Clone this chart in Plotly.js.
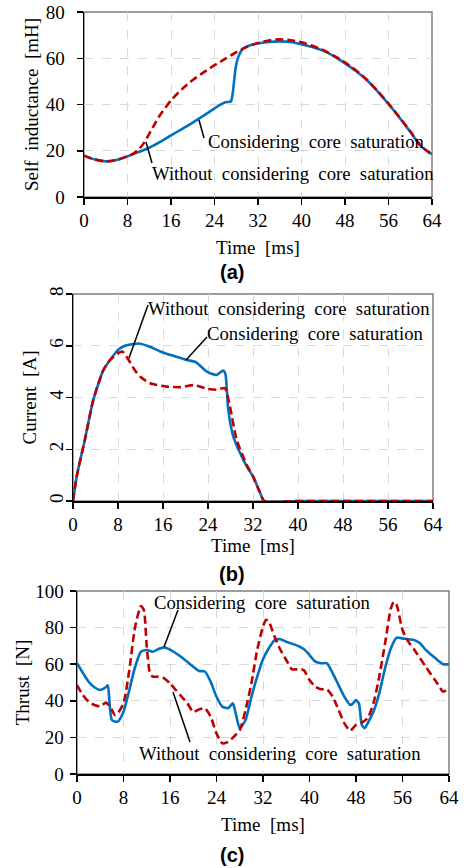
<!DOCTYPE html>
<html><head><meta charset="utf-8">
<script src="https://cdn.plot.ly/plotly-3.0.1.min.js"></script>
<style>html,body{margin:0;padding:0;background:#fff}</style>
</head><body><div id="chart" style="width:468px;height:868px"></div>
<script>
// ---------- data ----------
const timeTicks = [0, 8, 16, 24, 32, 40, 48, 56, 64];
const seriesNames = ["Considering core saturation", "Without considering core saturation"];

// (a) self inductance [mH]
const tA_sat = [0,2,4,6,8,10,12,14,16,18,20,22,24,25,26,27,27.3,27.6,27.9,28.4,29.3,31,32,34,36,38,40,42,44,46,48,50,52,54,56,58,60,62,64];
const L_sat  = [17.9,16.2,15.4,16.0,17.6,19.4,21.3,23.8,26.6,29.4,32.2,35.2,38.3,39.8,41.0,41.3,44,50,56,60.7,64.3,66.0,66.4,67.0,67.3,67.0,66.0,64.9,63.3,60.8,57.8,54.5,50.6,45.7,40.2,34.4,28.2,21.9,18.5];
const tA_nosat = [0,2,4,6,8,9,10,11,12,13,14,16,18,20,22,24,26,28,30,32,34,36,38,40,42,44,46,48,50,52,54,56,58,60,62,64];
const L_nosat  = [17.9,16.2,15.4,16.0,17.6,18.6,20.4,23.3,27.3,31.5,35.5,41.8,46.6,50.6,53.9,57.0,59.8,62.6,64.9,66.6,67.7,68.2,67.8,66.9,65.4,63.5,61.0,58.2,54.8,50.8,45.8,40.4,34.5,28.4,22.0,18.3];

// (b) current [A]
const tB_sat = [0,0.65,2.1,3.6,5.4,6.6,8,9,10.7,12,14,15.5,18,20.2,21.7,22.5,23.8,25.5,26.7,27.1,27.6,28.5,29.5,30.9,32,33.2,34,40,48,56,64];
const I_sat  = [0,0.94,2.36,3.9,5.06,5.45,5.84,5.98,6.07,6.08,5.93,5.78,5.6,5.45,5.38,5.25,5.0,4.87,5.04,4.9,3.52,2.49,1.95,1.33,0.95,0.35,0,0,0,0,0];
const tB_nosat = [0,0.65,2.1,3.6,5.4,6.6,8,8.8,10.1,11,11.9,13.7,16.7,19.1,21.5,23.8,25.5,27,27.9,29.1,30.9,32,33.2,34,40,48,56,64];
const I_nosat  = [0,0.94,2.36,3.9,5.06,5.45,5.71,5.77,5.38,5.05,4.81,4.55,4.42,4.4,4.48,4.34,4.3,4.36,3.65,2.36,1.39,0.95,0.35,0,0,0,0,0];

// (c) thrust [N]
const tC_sat = [0,2,3,4,5,5.3,6,7,8,9,10,11,12,13,14,15,16,18,20,21,22,23,24,25,26,26.8,27.3,28,29,30,31,32,33,34,35,36,38,39,40,41,42,43,44,45,46,47,47.5,48,48.5,49,49.5,50,51,52,53,54,55,56,57,58,59,60,61,62,63,64];
const F_sat  = [60.5,50.4,47.4,45.9,47.5,48.5,29.5,28.6,34,45.9,58.6,66.8,67.8,66.8,68.3,69.2,68,63.8,58.6,56.3,56,50.4,42.2,36.8,36,38.6,33.2,25,29.5,42,53.2,62.7,68.7,73.2,73.6,72.3,70,68.3,65,61.4,60.5,60.5,55,48.6,42.2,37.7,38.6,40.4,38.6,26.8,25,27.7,34,44.1,57.8,68.7,74.5,74.1,73.6,73.2,71.4,67.8,65,62.3,60,60];
const tC_nosat = [0,1,2,3,4,5,6,6.5,7,8,9,10,11,11.5,12,12.5,13,14,15,16,17,18,19,20,21,22,23,24,25,26,27,28,29,30,31,32,32.5,33,34,35,36,37,38,39,40,41,42,43,44,45,46,47,48,49,50,51,52,53,54,54.5,55,56,57,58,60,62,63,64];
const F_nosat  = [48.6,43.2,39.5,37.7,37,39,35,32.3,33.2,38.6,56.8,80.5,91.8,89.6,69.6,55.9,53.2,53.2,52.3,49.5,45.9,42.2,38.6,34,35.3,35.9,31.3,22.2,16.8,17.6,20.4,24,35,49.5,67.8,80.5,84.2,83.3,75,67.8,62.3,57.2,57.2,56.8,51.4,47.7,46.3,46.3,42.2,35,27.7,23.7,26.8,28.1,30.5,38.6,53.2,71.4,90.5,94.1,92.3,78.7,72.3,68,58.6,49.5,45,46.8];

// ---------- styling ----------
const BLUE = "#0070C0", RED = "#C00000";
const SERIF = "Liberation Serif, Times New Roman, serif";
const W = 468, H = 868;
const px = v => v / W, py = v => 1 - v / H;

function blue(x, y, xa, ya) {
  return {x, y, xaxis: xa, yaxis: ya, type: "scatter", mode: "lines", name: seriesNames[0],
    line: {color: BLUE, width: 2.6, shape: "spline", smoothing: 0.6}, showlegend: false, hoverinfo: "skip"};
}
function red(x, y, xa, ya) {
  return {x, y, xaxis: xa, yaxis: ya, type: "scatter", mode: "lines", name: seriesNames[1],
    line: {color: RED, width: 2.6, dash: "8px,4px", shape: "spline", smoothing: 0.6}, showlegend: false, hoverinfo: "skip"};
}

const data = [
  blue(tA_sat, L_sat, "x", "y"), red(tA_nosat, L_nosat, "x", "y"),
  blue(tB_sat, I_sat, "x2", "y2"), red(tB_nosat, I_nosat, "x2", "y2"),
  blue(tC_sat, F_sat, "x3", "y3"), red(tC_nosat, F_nosat, "x3", "y3")
];

const tickFont = {family: SERIF, size: 19, color: "#000"};
function xaxis(domain, anchor, standoff) {
  return {domain, anchor, range: [0, 64], tickmode: "array", tickvals: timeTicks,
    ticktext: timeTicks.map(String), ticks: "outside", ticklen: 6, tickwidth: 1.5, tickcolor: "#000",
    showline: true, linecolor: "#000", linewidth: 1.5, showgrid: true, gridcolor: "#d9d9d9", griddash: "dash",
    gridwidth: 1, zeroline: false, tickfont: tickFont,
    title: {text: "Time\u00a0 [ms]", font: {family: SERIF, size: 19, color: "#000"}, standoff}};
}
function yaxis(domain, anchor, range, dtick, title, tickangle, standoff, labelStandoff) {
  return {domain, anchor, range, dtick, tick0: 0, ticks: "outside", ticklen: 6, tickwidth: 1.5, tickcolor: "#000",
    showline: true, linecolor: "#000", linewidth: 1.5, showgrid: true, gridcolor: "#d9d9d9", griddash: "dash",
    gridwidth: 1, zeroline: false, tickfont: tickFont, tickangle, ticklabelstandoff: labelStandoff,
    title: {text: title, font: {family: SERIF, size: 19, color: "#000"}, standoff}};
}

const frame = (xr, yr) => ({type: "rect", xref: xr + " domain", yref: yr + " domain", x0: 0, x1: 1, y0: 0, y1: 1,
  line: {color: "#7f7f7f", width: 1.5}, layer: "below"});
const lead = (x0, y0, x1, y1) => ({type: "line", xref: "paper", yref: "paper",
  x0: px(x0), y0: py(y0), x1: px(x1), y1: py(y1), line: {color: "#000", width: 1.5}});
const label = (x, y, text) => ({xref: "paper", yref: "paper", x: px(x), y: py(y), xanchor: "left", yanchor: "middle",
  text, showarrow: false, font: {family: SERIF, size: 18.7, color: "#000"}});
const panel = (x, y, text) => ({xref: "paper", yref: "paper", x: px(x), y: py(y), xanchor: "center", yanchor: "middle",
  text: "<b>" + text + "</b>", showarrow: false, font: {family: "Liberation Sans, Arial, sans-serif", size: 20, color: "#000"}});

const C = "Considering\u00a0 core\u00a0 saturation";
const WO = "Without\u00a0 considering\u00a0 core\u00a0 saturation";

const layout = {
  width: W, height: H, margin: {l: 0, r: 0, t: 0, b: 0}, paper_bgcolor: "#fff", plot_bgcolor: "#fff",
  font: {family: SERIF, color: "#000"}, showlegend: false,
  xaxis: xaxis([px(84), px(432)], "y", 10),
  yaxis: yaxis([py(197), py(12)], "x", [0, 80], 20, "Self\u00a0 inductance\u00a0 [mH]", 0, 2, 8),
  xaxis2: xaxis([px(73), px(433)], "y2", 4),
  yaxis2: yaxis([py(501), py(294)], "x2", [0, 8], 2, "Current\u00a0 [A]", -90, 4, -5),
  xaxis3: xaxis([px(77), px(449)], "y3", 10),
  yaxis3: yaxis([py(774), py(591)], "x3", [0, 100], 20, "Thrust\u00a0 [N]", 0, 0, 2),
  shapes: [
    frame("x", "y"), frame("x2", "y2"), frame("x3", "y3"),
    lead(199, 120, 204, 138), lead(146, 142, 152, 163),
    lead(148, 305, 129, 358), lead(207, 337, 186, 360),
    lead(178, 610, 164, 647), lead(173, 692, 190, 742)
  ],
  annotations: [
    label(206, 141, C), label(150, 173, WO),
    label(146, 308, WO), label(205, 334, C),
    label(152, 602, C), label(137, 753, WO),
    panel(232, 272, "(a)"), panel(232, 574, "(b)"), panel(232, 855, "(c)")
  ]
};

Plotly.newPlot("chart", data, layout, {displayModeBar: false, staticPlot: true});
</script>
</body></html>
